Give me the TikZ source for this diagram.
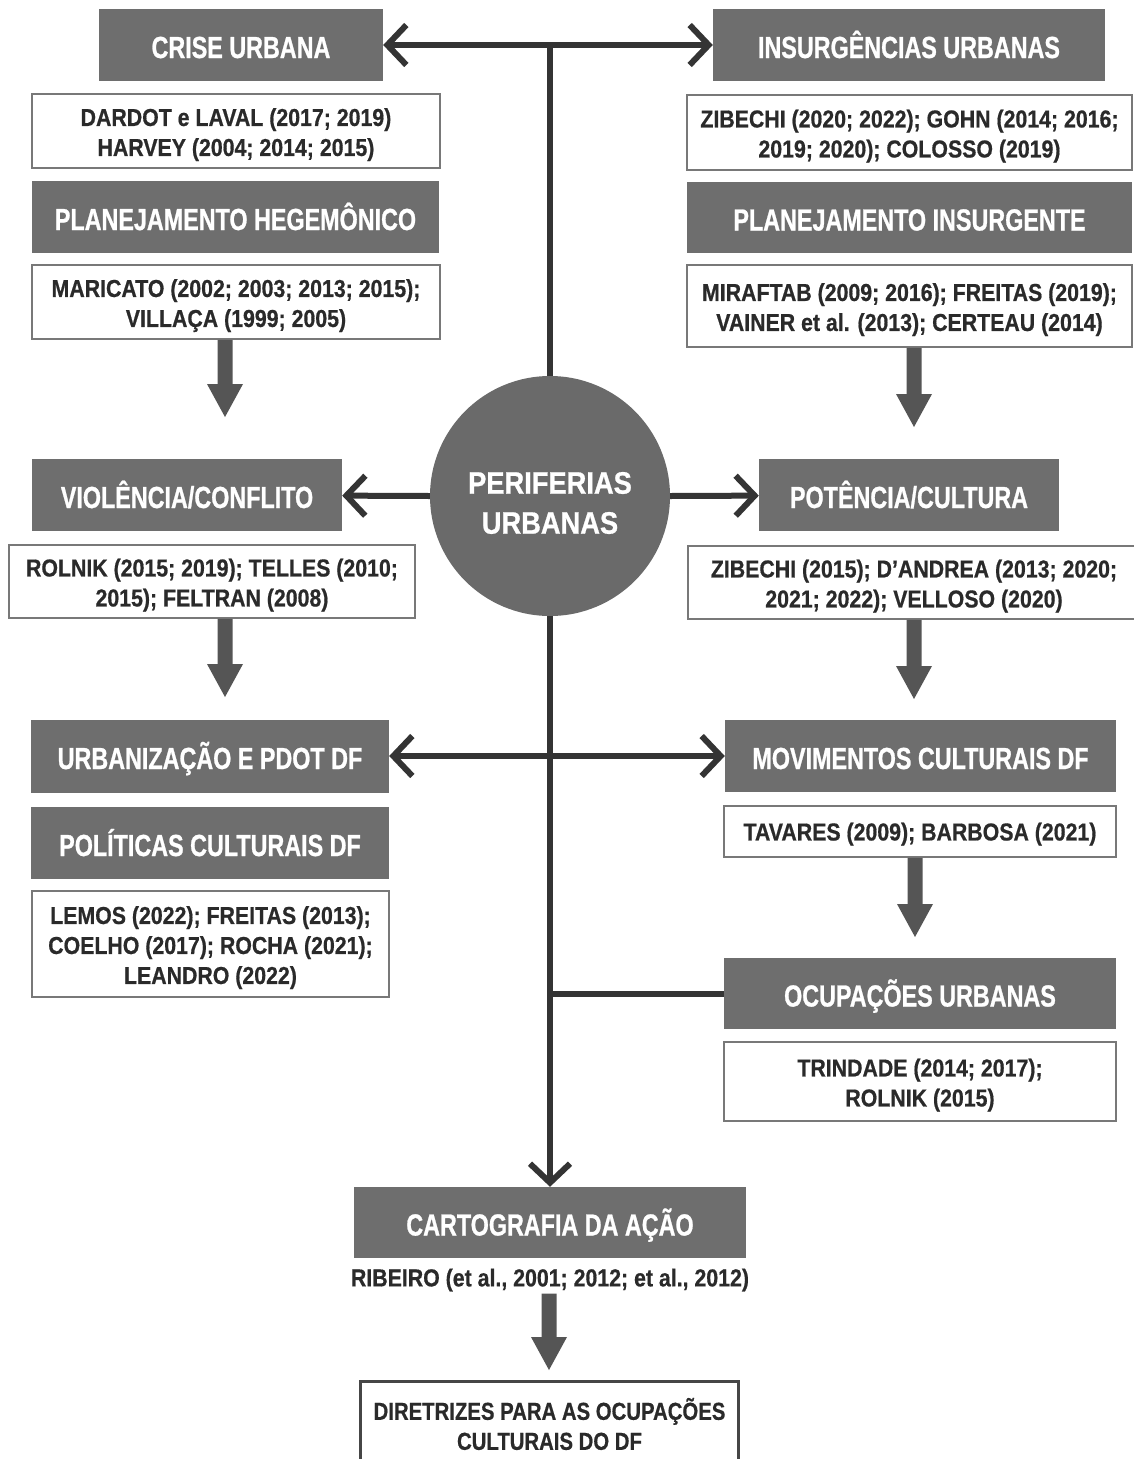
\documentclass[tikz,border=0pt]{standalone}
\usepackage{fontspec}
\usetikzlibrary{arrows.meta,calc}
\newfontfamily\hfont{Liberation Sans}[FakeStretch=0.765, FakeBold=0.8]
\newfontfamily\rfont{Liberation Sans}[FakeStretch=0.87, FakeBold=0.6]
\newfontfamily\dfont{Liberation Sans}[FakeStretch=0.83, FakeBold=0.6]
\newfontfamily\cfont{Liberation Sans}[FakeStretch=0.88, FakeBold=0.8]
\definecolor{boxgray}{RGB}{110,110,110}
\definecolor{circgray}{RGB}{106,106,106}
\definecolor{linecol}{RGB}{52,52,52}
\definecolor{thickcol}{RGB}{85,85,85}
\definecolor{txtcol}{RGB}{42,42,42}
\definecolor{bordercol}{RGB}{120,120,120}
\definecolor{dirborder}{RGB}{70,70,70}
\newcommand\sr{\rule{0pt}{25pt}}
\newcommand\fatarrow[2]{%
  \fill[thickcol] let \p1=(#1), \p2=(#2) in
    (\x2-7.5pt,\y1) -- (\x2+7.5pt,\y1) -- (\x2+7.5pt,\y2+33pt) -- (\x2+18pt,\y2+33pt)
    -- (\x2,\y2) -- (\x2-18pt,\y2+33pt) -- (\x2-7.5pt,\y2+33pt) -- cycle;}
\tikzset{
  hbox/.style={fill=boxgray, text=white, inner sep=0pt, text height=26pt, text depth=0pt,
    font=\hfont\bfseries\fontsize{30.5}{36}\selectfont},
  rbox/.style={draw=bordercol, line width=1.5pt, fill=white, text=txtcol, align=center,
    inner sep=0pt, font=\rfont\bfseries\fontsize{24.5}{30}\selectfont},
  conn/.style={draw=linecol, line width=6pt},
  barb/.style={-{Straight Barb[length=19pt,width=40pt]}},
  dbarb/.style={{Straight Barb[length=19pt,width=40pt]}-{Straight Barb[length=19pt,width=40pt]}},
}
\begin{document}
\begin{tikzpicture}[x=1pt,y=-1pt]
\fill[white] (0,0) rectangle (1133,1459);
\useasboundingbox (0,0) rectangle (1133,1459);

% left column
\node[hbox, minimum width=284pt, minimum height=72pt] (crise) at (241,45) {CRISE URBANA};
\node[rbox, minimum width=408pt, minimum height=74pt] (dardot) at (236,131)
  {\sr DARDOT e LAVAL (2017; 2019)\\HARVEY (2004; 2014; 2015)};
\node[hbox, minimum width=407pt, minimum height=72pt] (planheg) at (235.5,217) {PLANEJAMENTO HEGEMÔNICO};
\node[rbox, minimum width=408pt, minimum height=74pt] (maricato) at (236,302)
  {\sr MARICATO (2002; 2003; 2013; 2015);\\VILLAÇA (1999; 2005)};
\node[hbox, minimum width=310pt, minimum height=72pt] (viol) at (187,495) {VIOLÊNCIA/CONFLITO};
\node[rbox, minimum width=406pt, minimum height=73pt] (rolnik) at (212,581.5)
  {\sr ROLNIK (2015; 2019); TELLES (2010;\\2015); FELTRAN (2008)};
\node[hbox, minimum width=358pt, minimum height=73pt] (urban) at (210,756) {URBANIZAÇÃO E PDOT DF};
\node[hbox, minimum width=358pt, minimum height=72pt] (polit) at (210,843) {POLÍTICAS CULTURAIS DF};
\node[rbox, minimum width=357pt, minimum height=106pt] (lemos) at (210.5,944)
  {\sr LEMOS (2022); FREITAS (2013);\\COELHO (2017); ROCHA (2021);\\LEANDRO (2022)};

% right column
\node[hbox, minimum width=392pt, minimum height=72pt] (insurg) at (909,45) {INSURGÊNCIAS URBANAS};
\node[rbox, minimum width=445pt, minimum height=75pt] (zib1) at (909.5,132.5)
  {\sr ZIBECHI (2020; 2022); GOHN (2014; 2016;\\2019; 2020); COLOSSO (2019)};
\node[hbox, minimum width=445pt, minimum height=71pt] (planins) at (909.5,217.5) {PLANEJAMENTO INSURGENTE};
\node[rbox, minimum width=445pt, minimum height=82pt] (miraf) at (909.5,306)
  {\sr MIRAFTAB (2009; 2016); FREITAS (2019);\\VAINER et al. (2013); CERTEAU (2014)};
\node[hbox, minimum width=300pt, minimum height=72pt] (potenc) at (909,495) {POTÊNCIA/CULTURA};
\node[rbox, minimum width=452pt, minimum height=73pt] (zib2) at (914,582.5)
  {\sr ZIBECHI (2015); D’ANDREA (2013; 2020;\\2021; 2022); VELLOSO (2020)};
\node[hbox, minimum width=391pt, minimum height=72pt] (movim) at (920.5,756) {MOVIMENTOS CULTURAIS DF};
\node[rbox, minimum width=392pt, minimum height=51pt] (tavares) at (920,831.5)
  {\rule{0pt}{23pt}TAVARES (2009); BARBOSA (2021)};
\node[hbox, minimum width=392pt, minimum height=71pt] (ocup) at (920,993.5) {OCUPAÇÕES URBANAS};
\node[rbox, minimum width=392pt, minimum height=79pt] (trind) at (920,1081.5)
  {\sr TRINDADE (2014; 2017);\\ROLNIK (2015)};

% centre
\node[circle, fill=circgray, minimum size=240pt, inner sep=0pt] (circ) at (550,496) {};
\node[text=white, align=center, inner sep=0pt,
  font=\cfont\bfseries\fontsize{31}{40}\selectfont] (circtxt) at (550,503) {PERIFERIAS\\URBANAS};

% bottom
\node[hbox, minimum width=392pt, minimum height=71pt] (carto) at (550,1222.5) {CARTOGRAFIA DA AÇÃO};
\node[text=txtcol, inner sep=2pt, font=\rfont\bfseries\fontsize{24.5}{30}\selectfont] (ribeiro) at (550,1280)
  {RIBEIRO (et al., 2001; 2012; et al., 2012)};
\node[minimum width=377pt, minimum height=84pt, inner sep=0pt, text=txtcol, align=center,
  font=\dfont\bfseries\fontsize{24.5}{30}\selectfont] (diret) at (549.5,1424)
  {DIRETRIZES PARA AS OCUPAÇÕES\\CULTURAIS DO DF};
\draw[dirborder, line width=3pt] (diret.south west) -- (diret.north west) -- (diret.north east) -- (diret.south east);

% connectors
\coordinate (topj) at (550,45);
\draw[conn, dbarb] (crise) -- (insurg);
\draw[conn] (circ.north) -- (topj);
\draw[conn, barb] (circ.west) -- (viol);
\draw[conn, barb] (circ.east) -- (potenc);
\draw[conn, barb] (circ.south) -- (carto.north);
\draw[conn, dbarb] (urban) -- (movim);
\draw[conn] (circ.south |- ocup) -- (ocup.west);

% thick arrows
\coordinate (t1) at (225,417);
\coordinate (t2) at (225,697);
\coordinate (t3) at (914,427);
\coordinate (t4) at (914,699);
\coordinate (t5) at (915,937);
\coordinate (t6) at (549,1370);
\fatarrow{maricato.south}{t1}
\fatarrow{rolnik.south}{t2}
\fatarrow{miraf.south}{t3}
\fatarrow{zib2.south}{t4}
\fatarrow{tavares.south}{t5}
\fatarrow{ribeiro.south}{t6}
\end{tikzpicture}
\end{document}
